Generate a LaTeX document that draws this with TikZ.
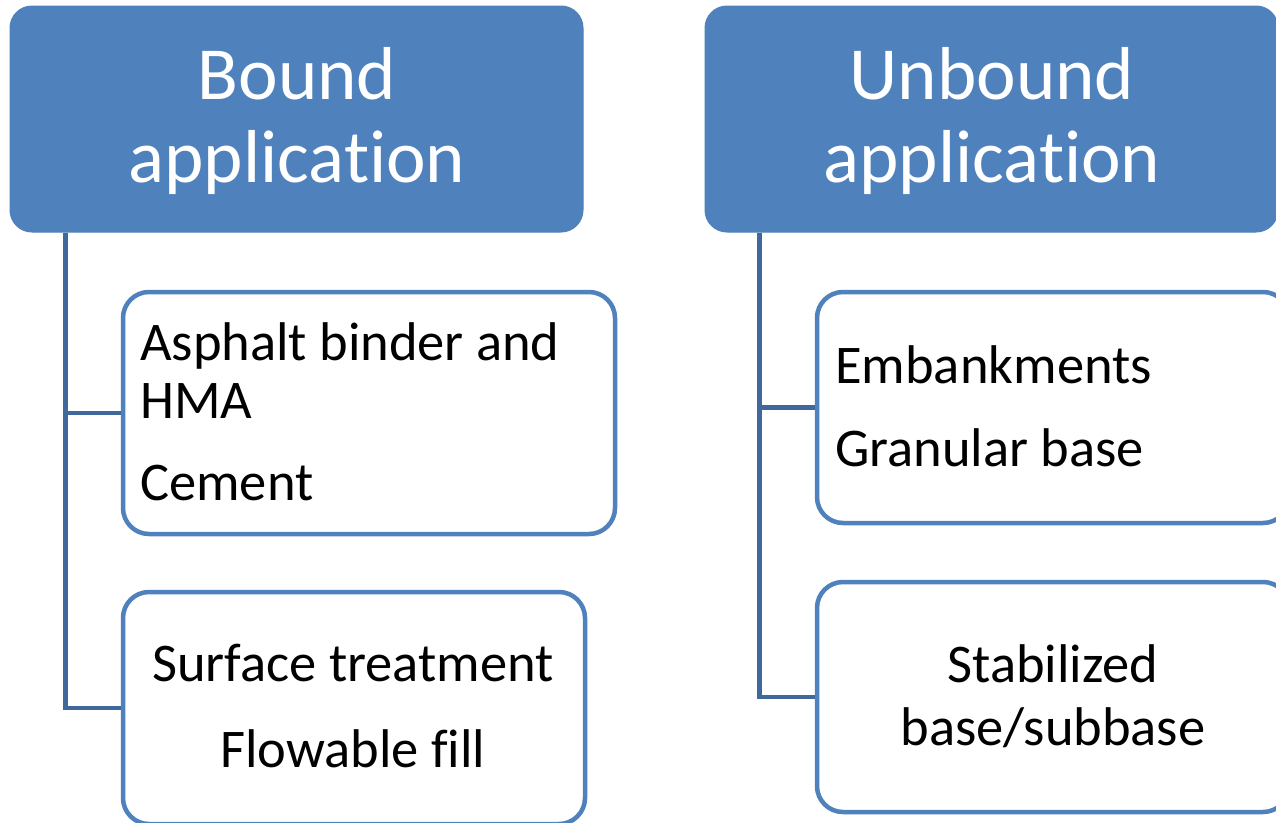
\documentclass[tikz,border=0pt]{standalone}
\usepackage{fontspec}
\setmainfont{Carlito}[Ligatures={NoCommon}]
\definecolor{accent}{HTML}{4F81BD}
\definecolor{linkblue}{RGB}{64,104,156}
\begin{document}
\begin{tikzpicture}[x=1pt,y=-1pt,
  header/.style={rectangle, rounded corners=22pt, fill=accent, draw=accent, line width=1pt, inner sep=0pt},
  item/.style={rectangle, rounded corners=26pt, fill=white, draw=accent, line width=4.5pt, inner sep=0pt},
  headtext/.style={text=white, font=\fontsize{75}{90}\selectfont, inner sep=0pt, anchor=base},
  itemtext/.style={text=black, font=\fontsize{54.5}{65}\selectfont, inner sep=0pt},
  link/.style={draw=linkblue, line width=4.5pt}
]
\useasboundingbox (0,0) rectangle (1276,822);
\clip (0,0) rectangle (1276,822);
\fill[white] (0,0) rectangle (1276,822);

% column headers
\node[header, minimum width=573pt, minimum height=226pt] (bound) at (296.5,119) {};
\node[header, minimum width=573pt, minimum height=226pt] (unbound) at (991.5,119) {};

% item boxes
\node[item, minimum width=492pt, minimum height=242pt] (b1) at (369,413) {};
\node[item, minimum width=462pt, minimum height=232pt] (b2) at (354,708) {};
\node[item, minimum width=472pt, minimum height=231pt] (u1) at (1053,407.5) {};
\node[item, minimum width=472pt, minimum height=230pt] (u2) at (1053,697) {};

% connectors
\draw[link] ([xshift=56pt]bound.south west) |- (b1.west);
\draw[link] ([xshift=56pt]bound.south west) |- (b2.west);
\draw[link] ([xshift=55pt]unbound.south west) |- (u1.west);
\draw[link] ([xshift=55pt]unbound.south west) |- (u2.west);

% header texts
\node[headtext] (bound1) at (297,99) {Bound};
\node[headtext] (bound2) at (297,182) {application};
\node[headtext] (unb1) at (992,99) {Unbound};
\node[headtext] (unb2) at (992,182) {application};

% item texts
\node[itemtext, anchor=base west] (b1a) at (140,360) {Asphalt binder and};
\node[itemtext, anchor=base west] (b1b) at (140,418) {HMA};
\node[itemtext, anchor=base west] (b1c) at (140,500) {Cement};
\node[itemtext, anchor=base] (b2a) at (353,681) {Surface treatment};
\node[itemtext, anchor=base] (b2b) at (353,767) {Flowable fill};
\node[itemtext, anchor=base west] (u1a) at (835,383) {Embankments};
\node[itemtext, anchor=base west] (u1b) at (835,466) {Granular base};
\node[itemtext, anchor=base] (u2a) at (1053,682) {Stabilized};
\node[itemtext, anchor=base] (u2b) at (1053,745) {base/subbase};
\end{tikzpicture}
\end{document}
